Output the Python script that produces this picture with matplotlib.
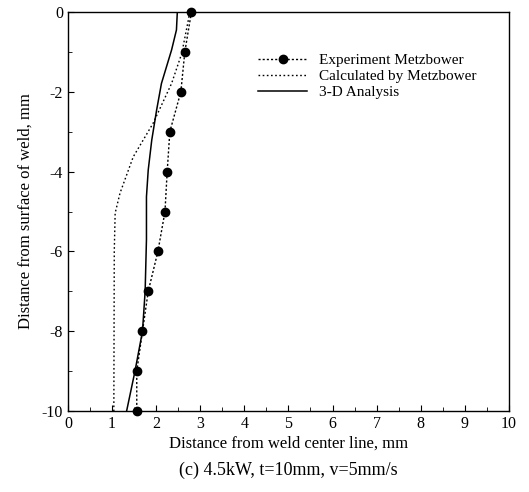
import matplotlib
matplotlib.use("Agg")
import matplotlib.pyplot as plt
from matplotlib.ticker import MultipleLocator

plt.rcParams['font.family'] = ['Liberation Serif', 'DejaVu Serif']
plt.rcParams['axes.unicode_minus'] = False

# experiment (Metzbower), dotted line with dots
exp_x = [2.80, 2.65, 2.56, 2.31, 2.25, 2.20, 2.04, 1.82, 1.69, 1.56, 1.56]
exp_y = [0, -1, -2, -3, -4, -5, -6, -7, -8, -9, -10]

# calculated by Metzbower, dotted
calc_x = [2.76, 2.73, 2.58, 2.35, 1.93, 1.48, 1.18, 1.07, 1.05, 1.04]
calc_y = [0, -0.2, -1.04, -1.79, -2.79, -3.63, -4.54, -5.04, -6.0, -10]

# 3-D analysis, solid
ana_x = [2.48, 2.46, 2.35, 2.12, 2.01, 1.90, 1.82, 1.78, 1.78, 1.75, 1.69, 1.52, 1.33]
ana_y = [0, -0.45, -0.95, -1.79, -2.46, -3.21, -3.96, -4.63, -5.7, -7, -8, -9, -10]

fig = plt.figure(figsize=(5.29, 4.92), dpi=100)
ax = fig.add_axes([0.1285, 0.1646, 0.8335, 0.811])

ax.plot(exp_x, exp_y, color='black', ls=(0, (1.5, 1.5)), lw=1.0,
        marker='o', ms=6, label='Experiment Metzbower', clip_on=False, zorder=3)
ax.plot(calc_x, calc_y, color='black', ls=(0, (1.2, 1.8)), lw=1.0,
        label='Calculated by Metzbower')
ax.plot(ana_x, ana_y, color='black', ls='-', lw=1.1, label='3-D Analysis')

ax.set_xlim(0, 10)
ax.set_ylim(-10, 0)
ax.xaxis.set_major_locator(MultipleLocator(1))
ax.xaxis.set_minor_locator(MultipleLocator(0.5))
ax.yaxis.set_major_locator(MultipleLocator(2))
ax.yaxis.set_minor_locator(MultipleLocator(1))
ax.tick_params(which='both', direction='in', labelsize=11.5)
ax.tick_params(which='major', length=4)
ax.tick_params(which='minor', length=3)
for s in ax.spines.values():
    s.set_linewidth(1.0)

ax.set_xlabel('Distance from weld center line, mm', fontsize=12, labelpad=3)
ax.set_ylabel('Distance from surface of weld, mm', fontsize=12, labelpad=6)
fig.text(0.545, 0.035, '(c) 4.5kW, t=10mm, v=5mm/s', ha='center', fontsize=13)

ax.legend(loc='upper left', bbox_to_anchor=(0.4, 0.93), frameon=False,
          fontsize=11, handlelength=3.2, labelspacing=0.15, handletextpad=0.8)

fig.savefig('out.png', dpi=100)
